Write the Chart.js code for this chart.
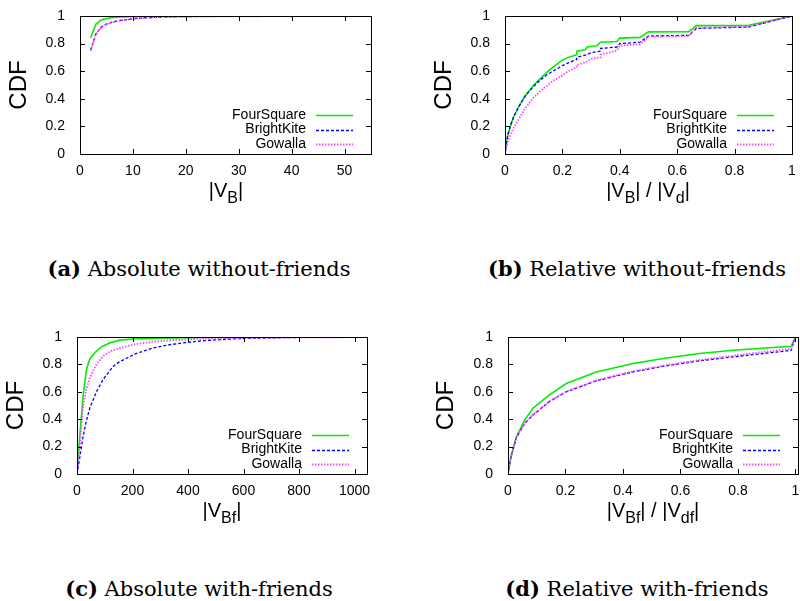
<!DOCTYPE html>
<html><head><meta charset="utf-8">
<script src="https://cdn.jsdelivr.net/npm/chart.js@4.4.0/dist/chart.umd.min.js"></script>
<style>
html,body{margin:0;padding:0;background:#fff;width:800px;height:601px;overflow:hidden;position:relative;}
canvas{position:absolute;}
.xt{position:absolute;font-family:"Liberation Sans",Arial,sans-serif;font-size:20px;line-height:20px;white-space:nowrap;transform:translateX(-50%);color:#000}
.xt .s{font-size:16px;position:relative;top:6px}
.cap{position:absolute;font-family:"DejaVu Serif",serif;font-size:21px;line-height:24px;white-space:nowrap;transform:translateX(-50%);color:#000}
</style></head><body>
<canvas id="ca" width="400" height="200" style="left:0;top:0"></canvas>
<canvas id="cb" width="400" height="200" style="left:400px;top:0"></canvas>
<canvas id="cc" width="400" height="200" style="left:0;top:320px"></canvas>
<canvas id="cd" width="410" height="200" style="left:400px;top:320px"></canvas>

<div class="xt" style="left:226px;top:180px">|V<span class="s">B</span>|</div>
<div class="xt" style="left:648px;top:180px">|V<span class="s">B</span>| / |V<span class="s">d</span>|</div>
<div class="xt" style="left:222px;top:500px">|V<span class="s">Bf</span>|</div>
<div class="xt" style="left:653px;top:500px">|V<span class="s">Bf</span>| / |V<span class="s">df</span>|</div>

<div class="cap" style="left:199px;top:257px"><b>(a)</b> Absolute without-friends</div>
<div class="cap" style="left:637px;top:257px"><b>(b)</b> Relative without-friends</div>
<div class="cap" style="left:199px;top:577px"><b>(c)</b> Absolute with-friends</div>
<div class="cap" style="left:637px;top:577px"><b>(d)</b> Relative with-friends</div>

<script>
// ---------- data ----------
const seriesNames = ['FourSquare', 'BrightKite', 'Gowalla'];
const yTicks = [0, 0.2, 0.4, 0.6, 0.8, 1];

// (a) Absolute without-friends : |V_B|
const aTicks = [0, 10, 20, 30, 40, 50];
const aFourX = [2, 3, 4, 5, 6, 7, 8, 10, 12, 15, 20, 30, 55];
const aFourY = [0.84, 0.94, 0.972, 0.982, 0.988, 0.992, 0.994, 0.996, 0.997, 0.998, 0.999, 1, 1];
const aBriX = [2, 3, 4, 5, 6, 7, 8, 10, 12, 15, 20, 30, 40, 55];
const aBriY = [0.752, 0.87, 0.92, 0.942, 0.955, 0.963, 0.97, 0.98, 0.986, 0.992, 0.996, 0.999, 1, 1];
const aGowX = [2, 3, 4, 5, 6, 7, 8, 10, 12, 15, 20, 30, 40, 55];
const aGowY = [0.748, 0.865, 0.917, 0.94, 0.953, 0.962, 0.969, 0.979, 0.985, 0.991, 0.995, 0.998, 0.999, 1];

// (b) Relative without-friends : |V_B| / |V_d|
const bTicks = [0, 0.2, 0.4, 0.6, 0.8, 1];
const bFourX = [0, 0.005, 0.01, 0.02, 0.03, 0.05, 0.07, 0.1, 0.125, 0.15, 0.167, 0.18, 0.2, 0.22, 0.25, 0.25, 0.28, 0.286, 0.32, 0.333, 0.39, 0.4, 0.47, 0.5, 0.64, 0.667, 0.85, 1];
const bFourY = [0, 0.08, 0.14, 0.21, 0.27, 0.35, 0.42, 0.5, 0.55, 0.6, 0.63, 0.65, 0.68, 0.7, 0.72, 0.745, 0.755, 0.775, 0.785, 0.81, 0.815, 0.84, 0.845, 0.885, 0.887, 0.93, 0.932, 1];
const bBriX = [0, 0.005, 0.01, 0.02, 0.03, 0.05, 0.07, 0.1, 0.125, 0.15, 0.167, 0.2, 0.22, 0.25, 0.25, 0.286, 0.3, 0.333, 0.333, 0.39, 0.4, 0.47, 0.5, 0.64, 0.667, 0.85, 1];
const bBriY = [0, 0.08, 0.14, 0.21, 0.27, 0.35, 0.42, 0.49, 0.54, 0.58, 0.6, 0.64, 0.66, 0.685, 0.7, 0.72, 0.735, 0.745, 0.765, 0.775, 0.8, 0.81, 0.855, 0.86, 0.91, 0.92, 1];
const bGowX = [0, 0.005, 0.01, 0.02, 0.03, 0.05, 0.07, 0.1, 0.125, 0.15, 0.167, 0.2, 0.22, 0.25, 0.25, 0.286, 0.3, 0.333, 0.333, 0.39, 0.4, 0.47, 0.5, 0.64, 0.667, 0.85, 1];
const bGowY = [0, 0.05, 0.09, 0.14, 0.19, 0.26, 0.33, 0.41, 0.46, 0.5, 0.53, 0.57, 0.6, 0.63, 0.645, 0.67, 0.69, 0.7, 0.72, 0.75, 0.785, 0.795, 0.85, 0.855, 0.915, 0.925, 1];

// (c) Absolute with-friends : |V_Bf|
const cTicks = [0, 200, 400, 600, 800, 1000];
const cFourX = [0, 10, 22, 34, 46, 64, 80, 94, 120, 154, 214, 300, 455, 600, 800, 1045];
const cFourY = [0, 0.28, 0.57, 0.76, 0.84, 0.885, 0.915, 0.935, 0.958, 0.977, 0.987, 0.992, 0.996, 0.998, 0.999, 1];
const cBriX = [0, 10, 22, 34, 46, 70, 94, 130, 154, 214, 274, 335, 395, 455, 576, 700, 850, 1045];
const cBriY = [0, 0.12, 0.275, 0.39, 0.48, 0.6, 0.69, 0.785, 0.82, 0.88, 0.92, 0.944, 0.96, 0.973, 0.988, 0.994, 0.998, 1];
const cGowX = [0, 10, 22, 34, 46, 70, 94, 120, 154, 214, 274, 335, 455, 600, 800, 1045];
const cGowY = [0, 0.2, 0.5, 0.62, 0.7, 0.8, 0.86, 0.895, 0.92, 0.95, 0.965, 0.976, 0.988, 0.994, 0.997, 0.999];

// (d) Relative with-friends : |V_Bf| / |V_df|
const dTicks = [0, 0.2, 0.4, 0.6, 0.8, 1];
const dFourX = [0, 0.01, 0.02, 0.029, 0.058, 0.087, 0.145, 0.203, 0.307, 0.435, 0.551, 0.667, 0.783, 0.985, 1];
const dFourY = [0, 0.12, 0.2, 0.27, 0.395, 0.48, 0.58, 0.66, 0.745, 0.806, 0.847, 0.879, 0.903, 0.932, 1];
const dBriX = [0, 0.01, 0.02, 0.029, 0.058, 0.087, 0.145, 0.203, 0.307, 0.435, 0.551, 0.667, 0.783, 0.985, 1];
const dBriY = [0, 0.12, 0.2, 0.265, 0.37, 0.43, 0.53, 0.6, 0.68, 0.745, 0.79, 0.826, 0.855, 0.902, 1];
const dGowX = [0, 0.01, 0.02, 0.029, 0.058, 0.087, 0.145, 0.203, 0.307, 0.435, 0.551, 0.667, 0.783, 0.985, 1];
const dGowY = [0, 0.12, 0.2, 0.268, 0.372, 0.433, 0.533, 0.603, 0.683, 0.75, 0.795, 0.832, 0.863, 0.915, 1];

// ---------- rendering ----------
const SANS = '"Liberation Sans", Arial, sans-serif';
const styles = [
  {borderColor: '#00ee00', borderWidth: 1.6, borderDash: [], order: 3},
  {borderColor: '#0000ff', borderWidth: 1.3, borderDash: [3, 2], order: 2},
  {borderColor: '#ff44ff', borderWidth: 1.8, borderDash: [1.5, 1.5], order: 1}
];
const zip = (xs, ys) => xs.map((x, i) => ({x: x, y: ys[i]}));
const plain = v => String(Math.round(v * 1000) / 1000);

const framePlugin = {
  id: 'frame',
  afterDatasetsDraw(chart) {
    const {ctx, chartArea: a, scales} = chart;
    ctx.save();
    ctx.strokeStyle = '#000';
    ctx.lineWidth = 1;
    const L = 5;
    scales.x.ticks.forEach(t => {
      const px = Math.round(scales.x.getPixelForValue(t.value)) + 0.5;
      ctx.beginPath();
      ctx.moveTo(px, a.bottom); ctx.lineTo(px, a.bottom - L);
      ctx.moveTo(px, a.top); ctx.lineTo(px, a.top + L);
      ctx.stroke();
    });
    scales.y.ticks.forEach(t => {
      const py = Math.round(scales.y.getPixelForValue(t.value)) + 0.5;
      ctx.beginPath();
      ctx.moveTo(a.left, py); ctx.lineTo(a.left + L, py);
      ctx.moveTo(a.right, py); ctx.lineTo(a.right - L, py);
      ctx.stroke();
    });
    ctx.strokeRect(Math.round(a.left) + 0.5, Math.round(a.top) + 0.5,
                   Math.round(a.right - a.left), Math.round(a.bottom - a.top));
    // key (inside, bottom right)
    const rows = [39, 24.5, 10];
    ctx.font = '14px ' + SANS;
    ctx.textAlign = 'right';
    ctx.textBaseline = 'middle';
    chart.data.datasets.forEach((ds, i) => {
      const y = a.bottom - rows[i];
      ctx.fillStyle = '#000';
      ctx.fillText(ds.label, a.right - 65, y);
      ctx.strokeStyle = ds.borderColor;
      ctx.lineWidth = ds.borderWidth;
      ctx.setLineDash(ds.borderDash);
      ctx.beginPath();
      ctx.moveTo(a.right - 55, Math.round(y) + 0.5);
      ctx.lineTo(a.right - 18, Math.round(y) + 0.5);
      ctx.stroke();
      ctx.setLineDash([]);
    });
    ctx.restore();
  }
};

function makeChart(id, sets, xTicks, xMax, yWidth, padTop, padRight, xHeight, titlePad) {
  new Chart(document.getElementById(id), {
    type: 'line',
    data: {
      datasets: sets.map((s, i) => Object.assign({
        label: seriesNames[i], data: zip(s[0], s[1]),
        pointRadius: 0, fill: false, tension: 0
      }, styles[i]))
    },
    options: {
      responsive: false, animation: false, devicePixelRatio: 1,
      layout: {padding: {top: padTop, right: padRight, left: 0, bottom: 0}},
      plugins: {legend: {display: false}, tooltip: {enabled: false}},
      scales: {
        x: {
          type: 'linear', min: 0, max: xMax,
          grid: {display: false}, border: {display: false},
          afterBuildTicks(s) { s.ticks = xTicks.map(v => ({value: v})); },
          afterFit(s) { s.height = xHeight; },
          ticks: {color: '#000', font: {family: SANS, size: 14}, padding: 1, maxRotation: 0, autoSkip: false, callback: plain}
        },
        y: {
          type: 'linear', min: 0, max: 1,
          grid: {display: false}, border: {display: false},
          afterBuildTicks(s) { s.ticks = yTicks.map(v => ({value: v})); },
          afterFit(s) { s.width = yWidth; },
          ticks: {color: '#000', font: {family: SANS, size: 14}, padding: 7, callback: plain},
          title: {display: true, text: 'CDF', color: '#000', font: {family: SANS, size: 24}, padding: {top: titlePad, bottom: 0}}
        }
      }
    },
    plugins: [framePlugin]
  });
}

makeChart('ca', [[aFourX, aFourY], [aBriX, aBriY], [aGowX, aGowY]], aTicks, 55, 80, 16, 29, 46, 5);
makeChart('cb', [[bFourX, bFourY], [bBriX, bBriY], [bGowX, bGowY]], bTicks, 1, 105, 16, 8, 46, 30);
makeChart('cc', [[cFourX, cFourY], [cBriX, cBriY], [cGowX, cGowY]], cTicks, 1045, 77, 17, 33, 46, 2);
makeChart('cd', [[dFourX, dFourY], [dBriX, dBriY], [dGowX, dGowY]], dTicks, 1.009, 108, 17, 12, 46, 32);
</script>
</body></html>
